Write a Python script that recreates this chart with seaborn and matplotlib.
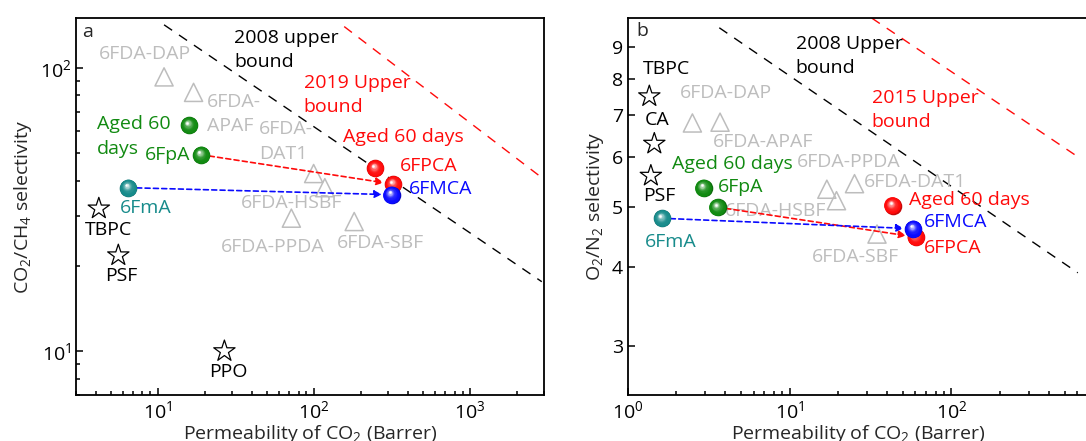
import numpy as np
import matplotlib
matplotlib.use("Agg")
import matplotlib.pyplot as plt
import seaborn as sns
from matplotlib.colors import to_rgb
from matplotlib.transforms import ScaledTranslation
from matplotlib.ticker import FixedLocator, FixedFormatter, NullLocator

# ---- panel a : CO2/CH4 ----
a_tri_x = [11, 17, 100, 118, 72, 182]
a_tri_y = [93, 82, 42.4, 37.8, 29.5, 28.7]
a_star_x = [4.2, 5.6, 26.8]
a_star_y = [31.9, 21.8, 10]
# order: aged 6FpA, 6FpA, 6FmA, aged 6FPCA, 6FPCA, 6FMCA
a_sph_x = [15.9, 19, 6.5, 248, 324, 316]
a_sph_y = [62.8, 49.4, 37.8, 44.2, 38.9, 35.7]
a_b2008_x = [11, 2900]
a_b2008_y = [142, 17.6]
a_b2019_x = [157, 2900]
a_b2019_y = [140, 41]

# ---- panel b : O2/N2 ----
b_tri_x = [2.51, 3.72, 17, 19.5, 25.2, 34.7]
b_tri_y = [6.8, 6.82, 5.33, 5.11, 5.44, 4.52]
b_star_x = [1.36, 1.46, 1.39]
b_star_y = [7.5, 6.3, 5.6]
b_sph_x = [2.94, 3.59, 1.63, 43.3, 60.2, 58.2]
b_sph_y = [5.36, 4.99, 4.79, 5.02, 4.47, 4.61]
b_b2008_x = [3.68, 604]
b_b2008_y = [9.65, 3.92]
b_b2015_x = [32.2, 619]
b_b2015_y = [10.0, 5.98]
b_yticks = [3, 4, 5, 6, 7, 8, 9]

GREEN = "#118a11"
TEAL = "#178b8b"
RED = "#ff0a0a"
BLUE = "#0a0aff"
GRAY = "#bdbdbd"
sph_colors = [GREEN, GREEN, TEAL, RED, RED, BLUE]

a_texts = [
    ("2008 upper\nbound", 31, 116, "black"),
    ("6FDA-DAP", 4.18, 111.9, GRAY),
    ("6FDA-\nAPAF", 20.8, 68.9, GRAY),
    ("6FDA-\nDAT1", 44.7, 55, GRAY),
    ("6FDA-HSBF", 34.3, 33.3, GRAY),
    ("6FDA-PPDA", 25.5, 23.3, GRAY),
    ("6FDA-SBF", 141.6, 24.1, GRAY),
    ("Aged 60\ndays", 4.08, 57.3, GREEN),
    ("6FpA", 8.3, 49.2, GREEN),
    ("6FmA", 5.76, 32.1, TEAL),
    ("TBPC", 3.4, 26.7, "black"),
    ("PSF", 4.58, 18.5, "black"),
    ("PPO", 21.3, 8.43, "black"),
    ("2019 Upper\nbound", 86.5, 80.1, RED),
    ("Aged 60 days", 155, 56.9, RED),
    ("6FPCA", 359, 45.1, RED),
    ("6FMCA", 408, 37.3, BLUE),
]
b_texts = [
    ("2008 Upper\nbound", 10.9, 8.69, "black"),
    ("TBPC", 1.245, 8.28, "black"),
    ("6FDA-DAP", 2.09, 7.6, GRAY),
    ("CA", 1.275, 6.88, "black"),
    ("6FDA-APAF", 3.34, 6.35, GRAY),
    ("Aged 60 days", 1.89, 5.84, GREEN),
    ("6FDA-PPDA", 11.16, 5.89, GRAY),
    ("6FDA-DAT1", 28.9, 5.47, GRAY),
    ("6FpA", 3.59, 5.37, GREEN),
    ("PSF", 1.245, 5.2, "black"),
    ("6FDA-HSBF", 3.97, 4.92, GRAY),
    ("Aged 60 days", 54.5, 5.12, RED),
    ("6FMCA", 67.4, 4.73, BLUE),
    ("6FmA", 1.275, 4.39, TEAL),
    ("6FPCA", 67.4, 4.3, RED),
    ("6FDA-SBF", 13.8, 4.16, GRAY),
    ("2015 Upper\nbound", 32.2, 7.13, RED),
]

sns.set_theme(style="ticks")
plt.rcParams["font.family"] = ["Open Sans", "DejaVu Sans"]
plt.rcParams["mathtext.fontset"] = "custom"
plt.rcParams["mathtext.rm"] = "Open Sans"
plt.rcParams["mathtext.it"] = "Open Sans"
plt.rcParams["mathtext.default"] = "regular"

fig = plt.figure(figsize=(10.86, 4.41), dpi=100)
ax_a = fig.add_axes([0.070, 0.104, 0.431, 0.855])
ax_b = fig.add_axes([0.578, 0.104, 0.424, 0.855])


def spheres(ax, xs, ys, colors, s=160):
    r = np.sqrt(s) / 2
    for x, y, c in zip(xs, ys, colors):
        base = np.array(to_rgb(c))
        ax.scatter([x], [y], s=s, color=base * 0.78, lw=0, zorder=6)
        for t in np.linspace(0.05, 1, 14):
            col = base * (1 - t ** 3) + np.ones(3) * t ** 3
            size = s * (1 - 0.88 * t) ** 2
            off = ScaledTranslation(-0.22 * r * t / 72, 0.28 * r * t / 72,
                                    fig.dpi_scale_trans)
            ax.scatter([x], [y], s=size, color=np.clip(col, 0, 1), lw=0,
                       zorder=6, transform=ax.transData + off)


def style(ax):
    ax.set_xscale("log")
    ax.set_yscale("log")
    for sp in ax.spines.values():
        sp.set_visible(True)
        sp.set_linewidth(1.3)
        sp.set_color("black")
    ax.tick_params(which="both", direction="in", top=False, right=False,
                   labelsize=14, colors="black", width=1.1)
    ax.tick_params(which="major", length=5)
    ax.tick_params(which="minor", length=3)


panels = [
    (ax_a, a_tri_x, a_tri_y, a_star_x, a_star_y, a_sph_x, a_sph_y,
     [(a_b2008_x, a_b2008_y, "black"), (a_b2019_x, a_b2019_y, RED)], a_texts),
    (ax_b, b_tri_x, b_tri_y, b_star_x, b_star_y, b_sph_x, b_sph_y,
     [(b_b2008_x, b_b2008_y, "black"), (b_b2015_x, b_b2015_y, RED)], b_texts),
]

for ax, tx, ty, sx, sy, px, py, bounds, texts in panels:
    style(ax)
    for bx, by, c in bounds:
        ax.plot(bx, by, color=c, lw=1.0, dashes=(7, 6), zorder=2)
    sns.scatterplot(x=tx, y=ty, ax=ax, marker="^", s=170, fc="none",
                    ec=GRAY, linewidth=1.1, zorder=3)
    sns.scatterplot(x=sx, y=sy, ax=ax, marker="*", s=260, fc="none",
                    ec="black", linewidth=0.9, zorder=3)
    for src, dst, c in [(1, 4, RED), (2, 5, BLUE)]:
        ax.annotate("", xy=(px[dst], py[dst]), xytext=(px[src], py[src]),
                    arrowprops=dict(arrowstyle="-|>", color=c, lw=1.2,
                                    linestyle=(0, (3, 2)), shrinkA=6,
                                    shrinkB=7, mutation_scale=11),
                    zorder=5)
    spheres(ax, px, py, sph_colors)
    for label, x, y, c in texts:
        ax.text(x, y, label, color=c, fontsize=14, ha="left", va="center",
                linespacing=1.45, zorder=4)

ax_a.set_xlim(3, 3000)
ax_a.set_ylim(7, 150)
ax_a.set_xlabel("Permeability of CO$_2$ (Barrer)", fontsize=14, labelpad=0.5)
ax_a.set_ylabel("CO$_2$/CH$_4$ selectivity", fontsize=14, labelpad=4)
ax_a.text(0.012, 0.962, "a", transform=ax_a.transAxes, fontsize=14,
          ha="left", va="center")

ax_b.set_xlim(1, 700)
ax_b.set_ylim(2.5, 10)
ax_b.yaxis.set_major_locator(FixedLocator(b_yticks))
ax_b.yaxis.set_major_formatter(FixedFormatter([str(v) for v in b_yticks]))
ax_b.yaxis.set_minor_locator(NullLocator())
ax_b.set_xlabel("Permeability of CO$_2$ (Barrer)", fontsize=14, labelpad=0.5)
ax_b.set_ylabel("O$_2$/N$_2$ selectivity", fontsize=14, labelpad=4)
ax_b.text(0.018, 0.966, "b", transform=ax_b.transAxes, fontsize=14,
          ha="left", va="center")

fig.savefig("out.png", dpi=100)
